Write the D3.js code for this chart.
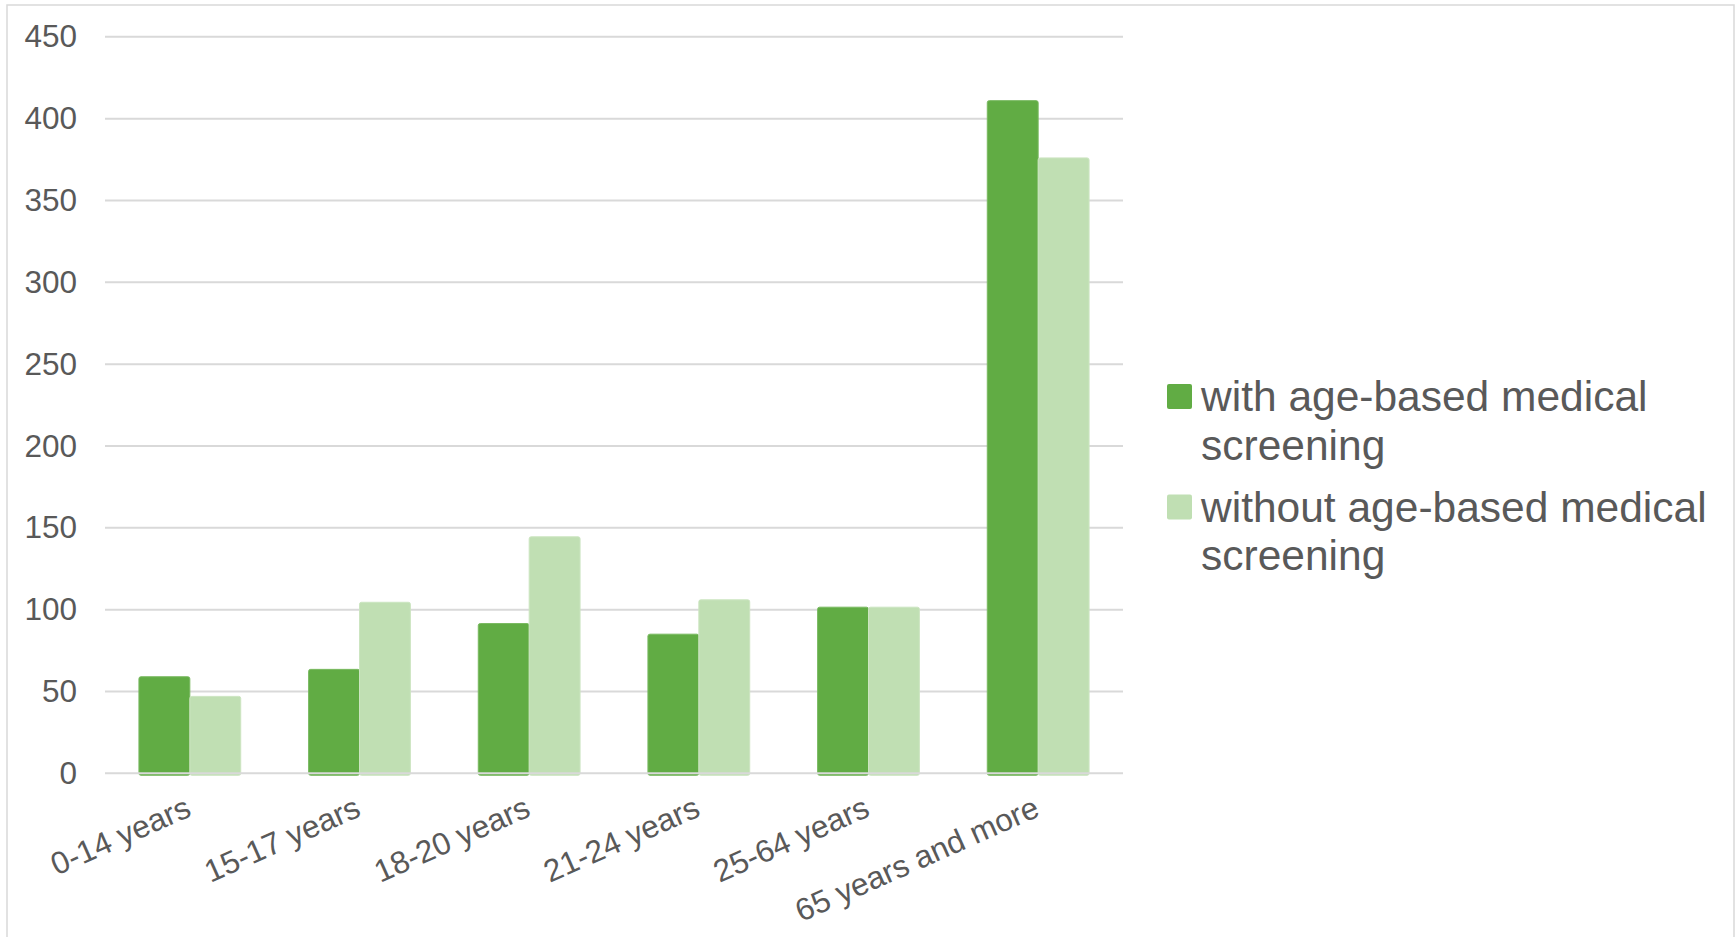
<!DOCTYPE html>
<html>
<head>
<meta charset="utf-8">
<script src="https://cdn.jsdelivr.net/npm/d3@7"></script>
<style>
  html, body { margin: 0; padding: 0; background: #ffffff; }
  svg { display: block; }
  text { font-family: "Liberation Sans", Arial, sans-serif; fill: #595959; }
</style>
</head>
<body>
<svg id="chart" width="1735" height="937"></svg>
<script>
const categories = ["0-14 years", "15-17 years", "18-20 years", "21-24 years", "25-64 years", "65 years and more"];
const seriesNames = ["with age-based medical screening", "without age-based medical screening"];
const withScreening = [59, 63.5, 91.5, 85, 101.5, 411];
const withoutScreening = [47, 104.5, 144.5, 106, 101.5, 376];
const yTicks = [0, 50, 100, 150, 200, 250, 300, 350, 400, 450];
const legendLines = [["with age-based medical", "screening"], ["without age-based medical", "screening"]];
const colors = ["#61AC44", "#C0DFB3"];

const svg = d3.select("#chart");

// outer chart border
svg.append("rect")
  .attr("x", 7).attr("y", 5)
  .attr("width", 1727).attr("height", 950)
  .attr("fill", "none").attr("stroke", "#D9D9D9").attr("stroke-width", 1.5);

const plot = { left: 105, right: 1123, top: 36.8, bottom: 773.3 };

const x = d3.scaleBand().domain(categories).range([plot.left, plot.right]).paddingInner(0).paddingOuter(0);
const xs = d3.scaleBand().domain([0, 1]).range([0, x.bandwidth() * 0.6]);
const y = d3.scaleLinear().domain([0, 450]).range([plot.bottom, plot.top]);

// gridlines
svg.append("g").selectAll("line")
  .data(yTicks.filter(d => d !== 0))
  .join("line")
  .attr("x1", plot.left).attr("x2", plot.right)
  .attr("y1", d => y(d)).attr("y2", d => y(d))
  .attr("stroke", "#D9D9D9").attr("stroke-width", 2);

// y axis labels
const yAxis = d3.axisLeft(y).tickValues(yTicks).tickSize(0).tickPadding(28);
const yg = svg.append("g").attr("transform", `translate(${plot.left},0)`).call(yAxis);
yg.select(".domain").remove();
yg.selectAll("text")
  .attr("font-size", 31.5)
  .attr("fill", "#595959")
  .attr("font-family", "'Liberation Sans', Arial, sans-serif");

// bars
const series = [withScreening, withoutScreening];
const groupOffset = x.bandwidth() * 0.2;
series.forEach((vals, si) => {
  svg.append("g").selectAll("rect")
    .data(vals.map((v, i) => ({ cat: categories[i], v })))
    .join("rect")
    .attr("x", d => x(d.cat) + groupOffset + xs(si))
    .attr("y", d => y(d.v))
    .attr("width", xs.bandwidth())
    .attr("height", d => y(0) - y(d.v) + 2)
    .attr("rx", 2).attr("ry", 2)
    .attr("fill", colors[si])
    .attr("stroke", si === 0 ? "#79B960" : "#CCE5C1")
    .attr("stroke-width", 1);
});

// zero axis line on top
svg.append("line")
  .attr("x1", plot.left).attr("x2", plot.right)
  .attr("y1", y(0)).attr("y2", y(0))
  .attr("stroke", "#D9D9D9").attr("stroke-width", 2);

// x axis labels (rotated)
const xAxis = d3.axisBottom(x).tickSize(0).tickPadding(0);
const xg = svg.append("g").attr("transform", `translate(0,${plot.bottom})`).call(xAxis);
xg.select(".domain").remove();
xg.selectAll(".tick text")
  .attr("font-size", 31.5)
  .attr("fill", "#595959")
  .attr("font-family", "'Liberation Sans', Arial, sans-serif")
  .attr("text-anchor", "end")
  .attr("dy", null)
  .attr("y", 0)
  .attr("transform", "translate(3,42) rotate(-24)");

// legend
const legend = svg.append("g");
const entryY = [384, 494.6];
legendLines.forEach((lines, i) => {
  legend.append("rect")
    .attr("x", 1167).attr("y", entryY[i])
    .attr("width", 25).attr("height", 25)
    .attr("rx", 2)
    .attr("fill", colors[i]);
  lines.forEach((ln, j) => {
    legend.append("text")
      .attr("x", 1201)
      .attr("y", entryY[i] + 27 + j * 48.7)
      .attr("font-size", 42.5)
      .text(ln);
  });
});
</script>
</body>
</html>
